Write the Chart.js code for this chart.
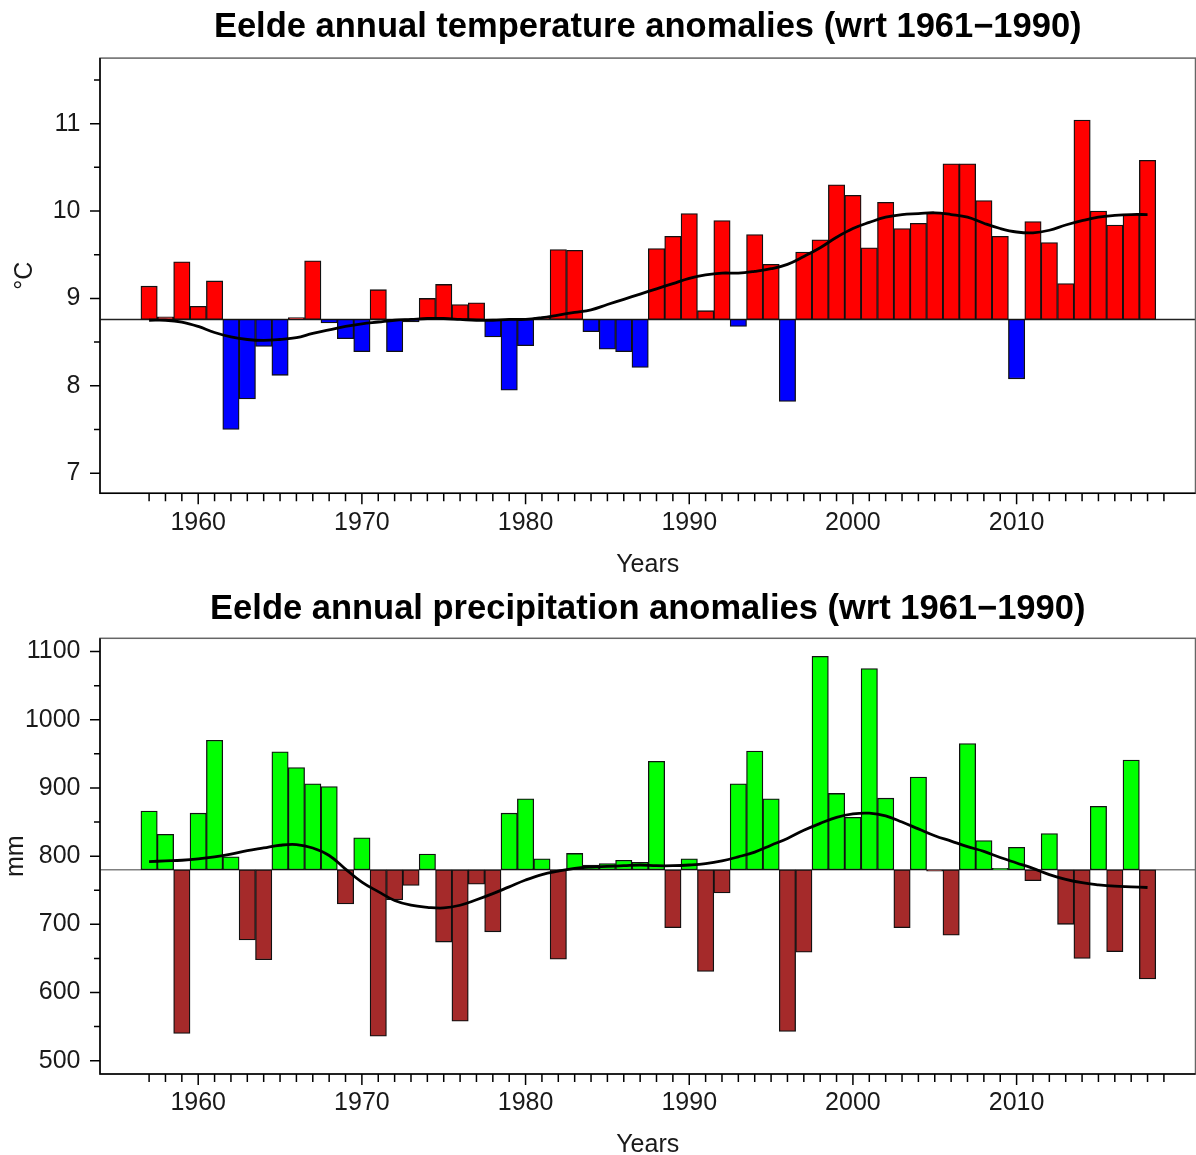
<!DOCTYPE html>
<html lang="en">
<head>
  <meta charset="UTF-8" />
  <title>Eelde annual anomalies</title>
  <script src="https://cdn.jsdelivr.net/npm/chart.js"></script>
  <style>
    html, body {
      margin: 0;
      padding: 0;
      background: #ffffff;
      width: 1196px;
      height: 1155px;
      overflow: hidden;
    }
    canvas {
      position: absolute;
      left: 0;
    }
    #tempChart { top: 0; }
    #precChart { top: 580px; }
  </style>
</head>
<body>

  <canvas id="tempChart" width="1196" height="580"></canvas>
  <canvas id="precChart" width="1196" height="580"></canvas>

  <script>
    const years = [
      1957, 1958, 1959, 1960, 1961, 1962, 1963, 1964, 1965, 1966,
      1967, 1968, 1969, 1970, 1971, 1972, 1973, 1974, 1975, 1976,
      1977, 1978, 1979, 1980, 1981, 1982, 1983, 1984, 1985, 1986,
      1987, 1988, 1989, 1990, 1991, 1992, 1993, 1994, 1995, 1996,
      1997, 1998, 1999, 2000, 2001, 2002, 2003, 2004, 2005, 2006,
      2007, 2008, 2009, 2010, 2011, 2012, 2013, 2014, 2015, 2016,
      2017, 2018
    ];

    // annual mean temperature (°C)
    const tempValues = [
      9.14, 8.79, 9.42, 8.91, 9.20, 7.50, 7.85, 8.45, 8.12, 8.78,
      9.43, 8.72, 8.54, 8.39, 9.10, 8.39, 8.73, 9.00, 9.16, 8.93,
      8.95, 8.56, 7.95, 8.46, 8.78, 9.56, 9.55, 8.62, 8.42, 8.39,
      8.21, 9.57, 9.71, 9.97, 8.86, 9.89, 8.68, 9.73, 9.39, 7.82,
      9.53, 9.67, 10.30, 10.18, 9.58, 10.10, 9.80, 9.86, 9.98, 10.54,
      10.54, 10.12, 9.71, 8.08, 9.88, 9.64, 9.17, 11.04, 10.00, 9.84,
      9.96, 10.58
    ];
    const tempSmooth = [
      8.75, 8.75, 8.73, 8.68, 8.61, 8.56, 8.53, 8.52, 8.53, 8.55,
      8.60, 8.64, 8.68, 8.71, 8.73, 8.75, 8.76, 8.77, 8.77, 8.76,
      8.75, 8.75, 8.76, 8.76, 8.78, 8.81, 8.84, 8.87, 8.93, 8.99,
      9.05, 9.11, 9.17, 9.23, 9.27, 9.29, 9.29, 9.31, 9.34, 9.39,
      9.48, 9.58, 9.70, 9.80, 9.87, 9.93, 9.96, 9.97, 9.98, 9.96,
      9.93, 9.86, 9.80, 9.76, 9.75, 9.78, 9.84, 9.89, 9.93, 9.95,
      9.96, 9.96
    ];
    const tempBase = 8.76;

    // annual precipitation (mm)
    const precValues = [
      866, 832, 540, 863, 970, 799, 677, 648, 953, 930,
      906, 902, 730, 827, 536, 736, 757, 803, 674, 558,
      759, 689, 863, 884, 796, 649, 804, 787, 789, 794,
      791, 939, 695, 796, 631, 746, 906, 954, 884, 543,
      659, 1093, 892, 857, 1075, 885, 695, 916, 778, 684,
      965, 823, 782, 813, 764, 833, 700, 650, 873, 660,
      941, 620
    ];
    const precSmooth = [
      792, 793, 794, 796, 799, 803, 808, 812, 816, 817,
      812, 801, 781, 762, 748, 735, 728, 725, 724, 728,
      736, 745, 755, 765, 773, 778, 782, 784, 785, 786,
      787, 786, 786, 787, 789, 793, 799, 806, 816, 826,
      838, 848, 857, 862, 863, 859, 850, 840, 830, 822,
      814, 807, 798, 790, 782, 773, 766, 761, 758, 756,
      755, 754
    ];
    const precBase = 780;

    const yearLabels = [1960, 1970, 1980, 1990, 2000, 2010];
    const tempLabels = [7, 8, 9, 10, 11];
    const precLabels = [500, 600, 700, 800, 900, 1000, 1100];

    const FONT = "'Liberation Sans', Arial, sans-serif";
    const TEXT = "#1a1a1a";

    // R-style frame: box, axis lines, baseline and the out-facing tick marks
    const framePlugin = {
      id: "frame",
      beforeDatasetsDraw(chart, args, opts) {
        const { ctx, chartArea: a } = chart;
        const py = chart.scales.y.getPixelForValue(opts.baseline);
        ctx.save();
        ctx.strokeStyle = opts.baseColor;
        ctx.lineWidth = 1.5;
        ctx.beginPath();
        ctx.moveTo(a.left, py);
        ctx.lineTo(a.right, py);
        ctx.stroke();
        ctx.restore();
      },
      afterDraw(chart, args, opts) {
        const { ctx, chartArea: a } = chart;
        const xs = chart.scales.x;
        const ys = chart.scales.y;
        ctx.save();
        ctx.lineWidth = 1.5;
        ctx.strokeStyle = "#666";
        ctx.strokeRect(a.left, a.top, a.right - a.left, a.bottom - a.top);

        ctx.strokeStyle = "#000";
        ctx.beginPath();
        ctx.moveTo(a.left, a.top);
        ctx.lineTo(a.left, a.bottom);
        ctx.lineTo(a.right, a.bottom);

        for (let yr = opts.firstYear; yr <= opts.lastYear; yr++) {
          const px = xs.getPixelForValue(yr);
          const len = yr % 10 === 0 ? 11 : 8;
          ctx.moveTo(px, a.bottom);
          ctx.lineTo(px, a.bottom + len);
        }

        const half = opts.yStep / 2;
        for (let v = Math.ceil(ys.min / half) * half; v <= ys.max; v += half) {
          const py = ys.getPixelForValue(v);
          const major = Math.abs(v / opts.yStep - Math.round(v / opts.yStep)) < 1e-6;
          ctx.moveTo(a.left, py);
          ctx.lineTo(a.left - (major ? 10 : 6), py);
        }
        ctx.stroke();
        ctx.restore();
      }
    };

    function buildChart(id, o) {
      return new Chart(document.getElementById(id), {
        type: "bar",
        data: {
          datasets: [
            {
              type: "line",
              data: years.map((yr, i) => ({ x: yr, y: o.smooth[i] })),
              borderColor: "#000",
              borderWidth: 2.8,
              pointRadius: 0,
              tension: 0.4,
              order: 0
            },
            {
              type: "bar",
              data: years.map((yr, i) => ({ x: yr, y: [o.base, o.values[i]] })),
              backgroundColor: o.values.map(v => v >= o.base ? o.upColor : o.downColor),
              borderColor: "#111",
              borderWidth: 1.3,
              borderSkipped: false,
              barPercentage: 1,
              categoryPercentage: 1,
              order: 1
            }
          ]
        },
        options: {
          responsive: false,
          animation: false,
          devicePixelRatio: 1,
          layout: { padding: { left: 0, right: 0.5, top: 0, bottom: 0 } },
          plugins: {
            legend: { display: false },
            tooltip: { enabled: false },
            title: {
              display: true,
              fullSize: false,
              text: o.title,
              color: "#000",
              font: { family: FONT, size: 34.5, weight: "bold" },
              padding: { top: o.titleTop, bottom: o.titleBottom }
            },
            frame: {
              baseline: o.base,
              baseColor: o.baseColor,
              firstYear: 1957,
              lastYear: 2019,
              yStep: o.yStep
            }
          },
          scales: {
            x: {
              type: "linear",
              min: 1954,
              max: 2020.93,
              offset: false,
              grid: { display: false, drawTicks: false },
              border: { display: false },
              afterBuildTicks: s => { s.ticks = yearLabels.map(v => ({ value: v })); },
              afterFit: s => { s.height = o.xAxisHeight; },
              ticks: {
                color: TEXT,
                font: { family: FONT, size: 25 },
                padding: 14.5,
                maxRotation: 0,
                autoSkip: false,
                callback: v => String(v)
              },
              title: {
                display: true,
                text: "Years",
                color: TEXT,
                font: { family: FONT, size: 25 },
                padding: { top: 0, bottom: 0 }
              }
            },
            y: {
              min: o.yMin,
              max: o.yMax,
              grid: { display: false, drawTicks: false },
              border: { display: false },
              afterBuildTicks: s => { s.ticks = o.yLabels.map(v => ({ value: v })); },
              afterFit: s => { s.width = 100; },
              ticks: {
                color: TEXT,
                font: { family: FONT, size: 25 },
                padding: 19.5,
                callback: v => String(v)
              },
              title: {
                display: true,
                text: o.yTitle,
                color: TEXT,
                font: { family: FONT, size: 25 },
                padding: { top: o.yTitlePad, bottom: 0 }
              }
            }
          }
        },
        plugins: [framePlugin]
      });
    }

    buildChart("tempChart", {
      title: "Eelde annual temperature anomalies (wrt 1961\u22121990)",
      values: tempValues,
      smooth: tempSmooth,
      base: tempBase,
      baseColor: "#222",
      upColor: "#ff0000",
      downColor: "#0000ff",
      yMin: 6.77,
      yMax: 11.75,
      yStep: 1,
      yLabels: tempLabels,
      yTitle: "\u00b0C",
      yTitlePad: 10.5,
      titleTop: 6.6,
      titleBottom: 10.1,
      xAxisHeight: 86.7
    });

    buildChart("precChart", {
      title: "Eelde annual precipitation anomalies (wrt 1961\u22121990)",
      values: precValues,
      smooth: precSmooth,
      base: precBase,
      baseColor: "#808080",
      upColor: "#00ff00",
      downColor: "#a52a2a",
      yMin: 480.5,
      yMax: 1119.5,
      yStep: 100,
      yLabels: precLabels,
      yTitle: "mm",
      yTitlePad: 1,
      titleTop: 9.2,
      titleBottom: 7.7,
      xAxisHeight: 86
    });
  </script>
</body>
</html>
